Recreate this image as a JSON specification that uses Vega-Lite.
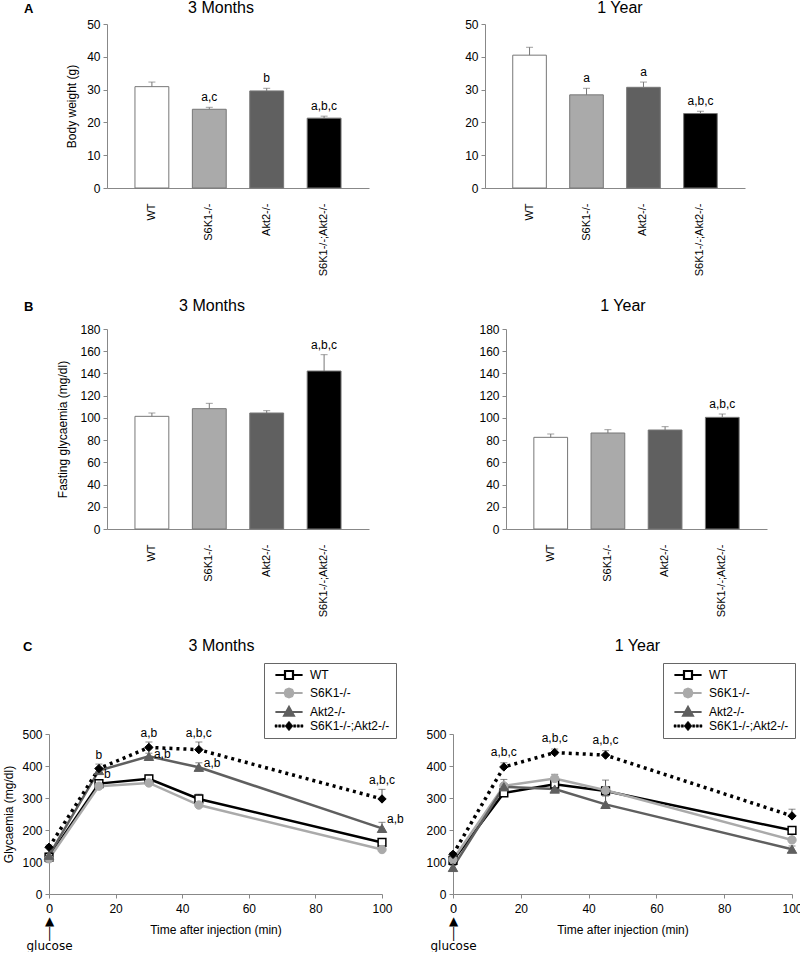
{
  "$schema": "https://vega.github.io/schema/vega-lite/v6.json",
  "padding": {"left": 2, "top": 0, "right": 0, "bottom": 0},
  "autosize": {"type": "pad"},
  "config": {
    "font": "Liberation Sans",
    "view": {"stroke": null},
    "axis": {"domainColor": "#888888", "tickColor": "#888888", "tickSize": 4, "labelFontSize": 12, "labelColor": "#000000", "titleFontSize": 12, "titleFontWeight": "normal", "titleColor": "#000000", "grid": false, "labelPadding": 3, "labelFlush": false, "labelOverlap": false},
    "title": {"fontSize": 16, "fontWeight": "normal", "color": "#000000"},
    "text": {"fontSize": 12, "color": "#000000"}
  },
  "resolve": {"scale": {"color": "independent", "fill": "independent"}, "legend": {"color": "independent"}},
  "datasets": {
    "bw3": [
      {"genotype": "WT", "mean": 30.9, "hi": 32.3, "sig": ""},
      {"genotype": "S6K1-/-", "mean": 24.0, "hi": 24.6, "sig": "a,c"},
      {"genotype": "Akt2-/-", "mean": 29.6, "hi": 30.4, "sig": "b"},
      {"genotype": "S6K1-/-;Akt2-/-", "mean": 21.3, "hi": 21.9, "sig": "a,b,c"}
    ],
    "bw1": [
      {"genotype": "WT", "mean": 40.5, "hi": 42.9, "sig": ""},
      {"genotype": "S6K1-/-", "mean": 28.4, "hi": 30.4, "sig": "a"},
      {"genotype": "Akt2-/-", "mean": 30.7, "hi": 32.3, "sig": "a"},
      {"genotype": "S6K1-/-;Akt2-/-", "mean": 22.7, "hi": 23.4, "sig": "a,b,c"}
    ],
    "fg3": [
      {"genotype": "WT", "mean": 101.4, "hi": 104.4, "sig": ""},
      {"genotype": "S6K1-/-", "mean": 108.3, "hi": 113.1, "sig": ""},
      {"genotype": "Akt2-/-", "mean": 104.4, "hi": 106.5, "sig": ""},
      {"genotype": "S6K1-/-;Akt2-/-", "mean": 142.2, "hi": 156.9, "sig": "a,b,c"}
    ],
    "fg1": [
      {"genotype": "WT", "mean": 82.5, "hi": 85.5, "sig": ""},
      {"genotype": "S6K1-/-", "mean": 86.4, "hi": 89.4, "sig": ""},
      {"genotype": "Akt2-/-", "mean": 89.1, "hi": 92.1, "sig": ""},
      {"genotype": "S6K1-/-;Akt2-/-", "mean": 100.5, "hi": 103.5, "sig": "a,b,c"}
    ],
    "ip3": [
      {"genotype": "WT", "t": 0, "g": 115, "hi": 122},
      {"genotype": "WT", "t": 15, "g": 345, "hi": 352},
      {"genotype": "WT", "t": 30, "g": 360, "hi": 372},
      {"genotype": "WT", "t": 45, "g": 297, "hi": 312},
      {"genotype": "WT", "t": 100, "g": 161, "hi": 172},
      {"genotype": "S6K1-/-", "t": 0, "g": 110, "hi": 115},
      {"genotype": "S6K1-/-", "t": 15, "g": 337, "hi": 344},
      {"genotype": "S6K1-/-", "t": 30, "g": 347, "hi": 352},
      {"genotype": "S6K1-/-", "t": 45, "g": 278, "hi": 284},
      {"genotype": "S6K1-/-", "t": 100, "g": 139, "hi": 145},
      {"genotype": "Akt2-/-", "t": 0, "g": 121, "hi": 128},
      {"genotype": "Akt2-/-", "t": 15, "g": 386, "hi": 395},
      {"genotype": "Akt2-/-", "t": 30, "g": 430, "hi": 440},
      {"genotype": "Akt2-/-", "t": 45, "g": 396, "hi": 410},
      {"genotype": "Akt2-/-", "t": 100, "g": 205, "hi": 224},
      {"genotype": "S6K1-/-;Akt2-/-", "t": 0, "g": 146, "hi": 153},
      {"genotype": "S6K1-/-;Akt2-/-", "t": 15, "g": 392, "hi": 406},
      {"genotype": "S6K1-/-;Akt2-/-", "t": 30, "g": 458, "hi": 475},
      {"genotype": "S6K1-/-;Akt2-/-", "t": 45, "g": 451, "hi": 475},
      {"genotype": "S6K1-/-;Akt2-/-", "t": 100, "g": 297, "hi": 327}
    ],
    "ip1": [
      {"genotype": "WT", "t": 0, "g": 105, "hi": 112},
      {"genotype": "WT", "t": 15, "g": 316, "hi": 324},
      {"genotype": "WT", "t": 30, "g": 343, "hi": 351},
      {"genotype": "WT", "t": 45, "g": 322, "hi": 330},
      {"genotype": "WT", "t": 100, "g": 199, "hi": 210},
      {"genotype": "S6K1-/-", "t": 0, "g": 108, "hi": 115},
      {"genotype": "S6K1-/-", "t": 15, "g": 338, "hi": 358},
      {"genotype": "S6K1-/-", "t": 30, "g": 361, "hi": 374},
      {"genotype": "S6K1-/-", "t": 45, "g": 324, "hi": 356},
      {"genotype": "S6K1-/-", "t": 100, "g": 169, "hi": 195},
      {"genotype": "Akt2-/-", "t": 0, "g": 83, "hi": 89},
      {"genotype": "Akt2-/-", "t": 15, "g": 335, "hi": 345},
      {"genotype": "Akt2-/-", "t": 30, "g": 328, "hi": 334},
      {"genotype": "Akt2-/-", "t": 45, "g": 280, "hi": 306},
      {"genotype": "Akt2-/-", "t": 100, "g": 140, "hi": 150},
      {"genotype": "S6K1-/-;Akt2-/-", "t": 0, "g": 124, "hi": 130},
      {"genotype": "S6K1-/-;Akt2-/-", "t": 15, "g": 397, "hi": 410},
      {"genotype": "S6K1-/-;Akt2-/-", "t": 30, "g": 442, "hi": 453},
      {"genotype": "S6K1-/-;Akt2-/-", "t": 45, "g": 434, "hi": 448},
      {"genotype": "S6K1-/-;Akt2-/-", "t": 100, "g": 244, "hi": 265}
    ],
    "ip3above": [
      {"t": 15, "y": 406, "sig": "b"},
      {"t": 30, "y": 475, "sig": "a,b"},
      {"t": 45, "y": 475, "sig": "a,b,c"},
      {"t": 100, "y": 327, "sig": "a,b,c"}
    ],
    "ip3right": [
      {"t": 15, "y": 375, "sig": "b"},
      {"t": 30, "y": 437, "sig": "a,b"},
      {"t": 45, "y": 410, "sig": "a,b"},
      {"t": 100, "y": 234, "sig": "a,b"}
    ],
    "ip1above": [
      {"t": 15, "y": 410, "sig": "a,b,c"},
      {"t": 30, "y": 453, "sig": "a,b,c"},
      {"t": 45, "y": 448, "sig": "a,b,c"}
    ],
    "blank": [{"d": 0}]
  },
  "vconcat": [
    {
      "spacing": 22,
      "resolve": {"scale": {"color": "independent", "fill": "independent"}, "legend": {"color": "independent"}},
      "vconcat": [
        {
          "title": {"text": "A", "anchor": "start", "frame": "bounds", "fontSize": 13, "fontWeight": "bold", "baseline": "top", "offset": -16, "dx": -25},
          "spacing": 15,
          "hconcat": [
            {"width": 1, "height": 1, "data": {"name": "blank"}, "mark": {"type": "text", "text": ""}, "encoding": {}},
            {
              "spacing": 95,
              "hconcat": [
                {
                  "width": 262, "height": 164,
                  "title": {"text": "3 Months", "frame": "group", "offset": 2, "dx": -17},
                  "data": {"name": "bw3"},
                  "encoding": {"x": {"field": "genotype", "type": "nominal", "scale": {"domain": ["WT", "S6K1-/-", "Akt2-/-", "S6K1-/-;Akt2-/-"], "paddingInner": 0.41, "paddingOuter": 0.487}, "axis": {"title": null, "labelAngle": -90, "ticks": false, "labelPadding": 15, "labelFontSize": 11}}},
                  "layer": [
                    {"mark": {"type": "bar", "stroke": "#777777", "strokeWidth": 1}, "encoding": {"y": {"field": "mean", "type": "quantitative", "title": "Body weight (g)", "scale": {"domain": [0, 50]}, "axis": {"values": [0, 10, 20, 30, 40, 50], "titlePadding": 8}}, "fill": {"field": "genotype", "type": "nominal", "scale": {"domain": ["WT", "S6K1-/-", "Akt2-/-", "S6K1-/-;Akt2-/-"], "range": ["#ffffff", "#aaaaaa", "#606060", "#000000"]}, "legend": null}}},
                    {"mark": {"type": "rule", "color": "#777777"}, "encoding": {"y": {"field": "mean", "type": "quantitative", "title": "Body weight (g)", "axis": {"values": [0, 10, 20, 30, 40, 50], "titlePadding": 8}}, "y2": {"field": "hi"}}},
                    {"mark": {"type": "tick", "color": "#777777", "size": 7, "thickness": 1}, "encoding": {"y": {"field": "hi", "type": "quantitative", "title": "Body weight (g)", "axis": {"values": [0, 10, 20, 30, 40, 50], "titlePadding": 8}}}},
                    {"mark": {"type": "text", "baseline": "alphabetic", "dy": -6}, "encoding": {"y": {"field": "hi", "type": "quantitative", "title": "Body weight (g)", "axis": {"values": [0, 10, 20, 30, 40, 50], "titlePadding": 8}}, "text": {"field": "sig"}}}
                  ]
                },
                {
                  "width": 260, "height": 164,
                  "title": {"text": "1 Year", "frame": "group", "offset": 2, "dx": 5},
                  "data": {"name": "bw1"},
                  "encoding": {"x": {"field": "genotype", "type": "nominal", "scale": {"domain": ["WT", "S6K1-/-", "Akt2-/-", "S6K1-/-;Akt2-/-"], "paddingInner": 0.41, "paddingOuter": 0.487}, "axis": {"title": null, "labelAngle": -90, "ticks": false, "labelPadding": 15, "labelFontSize": 11}}},
                  "layer": [
                    {"mark": {"type": "bar", "stroke": "#777777", "strokeWidth": 1}, "encoding": {"y": {"field": "mean", "type": "quantitative", "title": null, "scale": {"domain": [0, 50]}, "axis": {"values": [0, 10, 20, 30, 40, 50]}}, "fill": {"field": "genotype", "type": "nominal", "scale": {"domain": ["WT", "S6K1-/-", "Akt2-/-", "S6K1-/-;Akt2-/-"], "range": ["#ffffff", "#aaaaaa", "#606060", "#000000"]}, "legend": null}}},
                    {"mark": {"type": "rule", "color": "#777777"}, "encoding": {"y": {"field": "mean", "type": "quantitative", "title": null, "axis": {"values": [0, 10, 20, 30, 40, 50]}}, "y2": {"field": "hi"}}},
                    {"mark": {"type": "tick", "color": "#777777", "size": 7, "thickness": 1}, "encoding": {"y": {"field": "hi", "type": "quantitative", "title": null, "axis": {"values": [0, 10, 20, 30, 40, 50]}}}},
                    {"mark": {"type": "text", "baseline": "alphabetic", "dy": -6}, "encoding": {"y": {"field": "hi", "type": "quantitative", "title": null, "axis": {"values": [0, 10, 20, 30, 40, 50]}}, "text": {"field": "sig"}}}
                  ]
                }
              ]
            }
          ]
        },
        {
          "title": {"text": "B", "anchor": "start", "frame": "bounds", "fontSize": 13, "fontWeight": "bold", "baseline": "top", "offset": -16, "dx": -25},
          "spacing": 6,
          "hconcat": [
            {"width": 1, "height": 1, "data": {"name": "blank"}, "mark": {"type": "text", "text": ""}, "encoding": {}},
            {
              "spacing": 109,
              "hconcat": [
                {
                  "width": 262, "height": 200,
                  "title": {"text": "3 Months", "frame": "group", "offset": 9, "dx": -26},
                  "data": {"name": "fg3"},
                  "encoding": {"x": {"field": "genotype", "type": "nominal", "scale": {"domain": ["WT", "S6K1-/-", "Akt2-/-", "S6K1-/-;Akt2-/-"], "paddingInner": 0.41, "paddingOuter": 0.487}, "axis": {"title": null, "labelAngle": -90, "ticks": false, "labelPadding": 15, "labelFontSize": 11}}},
                  "layer": [
                    {"mark": {"type": "bar", "stroke": "#777777", "strokeWidth": 1}, "encoding": {"y": {"field": "mean", "type": "quantitative", "title": "Fasting glycaemia (mg/dl)", "scale": {"domain": [0, 180]}, "axis": {"values": [0, 20, 40, 60, 80, 100, 120, 140, 160, 180], "titlePadding": 10}}, "fill": {"field": "genotype", "type": "nominal", "scale": {"domain": ["WT", "S6K1-/-", "Akt2-/-", "S6K1-/-;Akt2-/-"], "range": ["#ffffff", "#aaaaaa", "#606060", "#000000"]}, "legend": null}}},
                    {"mark": {"type": "rule", "color": "#777777"}, "encoding": {"y": {"field": "mean", "type": "quantitative", "title": "Fasting glycaemia (mg/dl)", "axis": {"values": [0, 20, 40, 60, 80, 100, 120, 140, 160, 180], "titlePadding": 10}}, "y2": {"field": "hi"}}},
                    {"mark": {"type": "tick", "color": "#777777", "size": 7, "thickness": 1}, "encoding": {"y": {"field": "hi", "type": "quantitative", "title": "Fasting glycaemia (mg/dl)", "axis": {"values": [0, 20, 40, 60, 80, 100, 120, 140, 160, 180], "titlePadding": 10}}}},
                    {"mark": {"type": "text", "baseline": "alphabetic", "dy": -6}, "encoding": {"y": {"field": "hi", "type": "quantitative", "title": "Fasting glycaemia (mg/dl)", "axis": {"values": [0, 20, 40, 60, 80, 100, 120, 140, 160, 180], "titlePadding": 10}}, "text": {"field": "sig"}}}
                  ]
                },
                {
                  "width": 261, "height": 200,
                  "title": {"text": "1 Year", "frame": "bounds", "offset": 9},
                  "data": {"name": "fg1"},
                  "encoding": {"x": {"field": "genotype", "type": "nominal", "scale": {"domain": ["WT", "S6K1-/-", "Akt2-/-", "S6K1-/-;Akt2-/-"], "paddingInner": 0.41, "paddingOuter": 0.487}, "axis": {"title": null, "labelAngle": -90, "ticks": false, "labelPadding": 15, "labelFontSize": 11}}},
                  "layer": [
                    {"mark": {"type": "bar", "stroke": "#777777", "strokeWidth": 1}, "encoding": {"y": {"field": "mean", "type": "quantitative", "title": null, "scale": {"domain": [0, 180]}, "axis": {"values": [0, 20, 40, 60, 80, 100, 120, 140, 160, 180]}}, "fill": {"field": "genotype", "type": "nominal", "scale": {"domain": ["WT", "S6K1-/-", "Akt2-/-", "S6K1-/-;Akt2-/-"], "range": ["#ffffff", "#aaaaaa", "#606060", "#000000"]}, "legend": null}}},
                    {"mark": {"type": "rule", "color": "#777777"}, "encoding": {"y": {"field": "mean", "type": "quantitative", "title": null, "axis": {"values": [0, 20, 40, 60, 80, 100, 120, 140, 160, 180]}}, "y2": {"field": "hi"}}},
                    {"mark": {"type": "tick", "color": "#777777", "size": 7, "thickness": 1}, "encoding": {"y": {"field": "hi", "type": "quantitative", "title": null, "axis": {"values": [0, 20, 40, 60, 80, 100, 120, 140, 160, 180]}}}},
                    {"mark": {"type": "text", "baseline": "alphabetic", "dy": -6}, "encoding": {"y": {"field": "hi", "type": "quantitative", "title": null, "axis": {"values": [0, 20, 40, 60, 80, 100, 120, 140, 160, 180]}}, "text": {"field": "sig"}}}
                  ]
                }
              ]
            }
          ]
        }
      ]
    },
    {
      "title": {"text": "C", "anchor": "start", "frame": "bounds", "fontSize": 13, "fontWeight": "bold", "baseline": "top", "offset": -16, "dx": 20},
      "spacing": 21,
      "resolve": {"scale": {"color": "independent"}, "legend": {"color": "independent"}},
      "hconcat": [
        {
          "width": 333, "height": 160,
          "title": {"text": "3 Months", "frame": "group", "offset": 9, "dx": 6},
          "encoding": {
            "x": {"field": "t", "type": "quantitative", "title": "Time after injection (min)", "scale": {"domain": [0, 100]}, "axis": {"values": [0, 20, 40, 60, 80, 100], "labelPadding": 5, "labelLineHeight": 12.5, "labelFont": {"condition": {"test": "datum.value === 0", "value": "DejaVu Sans"}, "value": "Liberation Sans"}, "labelExpr": "datum.value === 0 ? ['0', '▲', '│', 'glucose'] : datum.label", "minExtent": 22, "maxExtent": 22, "titlePadding": 8}},
            "y": {"field": "g", "type": "quantitative", "title": "Glycaemia (mg/dl)", "scale": {"domain": [0, 500]}, "axis": {"values": [0, 100, 200, 300, 400, 500], "titlePadding": 6}}
          },
          "layer": [
            {"data": {"name": "ip3"}, "transform": [{"filter": "datum.genotype !== 'S6K1-/-;Akt2-/-'"}], "mark": {"type": "line", "strokeWidth": 2.5},
             "encoding": {"color": {"field": "genotype", "type": "nominal", "scale": {"domain": ["WT", "S6K1-/-", "Akt2-/-", "S6K1-/-;Akt2-/-"], "range": ["#000000", "#aaaaaa", "#5f5f5f", "#000000"]},
               "legend": {"orient": "none", "legendX": 215, "legendY": -71, "title": null, "strokeColor": "#666666", "fillColor": "#ffffff", "padding": 6, "labelFontSize": 12, "symbolSize": 64, "symbolOffset": 13, "labelOffset": 15, "rowPadding": 0,
                 "encode": {"symbols": {"update": {
                   "shape": {"signal": "datum.value === 'WT' ? 'M-3.4,0H-1M1,0H3.4M-1,-1H1V1H-1Z' : datum.value === 'S6K1-/-' ? 'M-3.4,0H3.4M1.1,0L0.78,0.78L0,1.1L-0.78,0.78L-1.1,0L-0.78,-0.78L0,-1.1L0.78,-0.78Z' : datum.value === 'Akt2-/-' ? 'M-3.4,0H3.4M0,-1.25L1.2,0.9H-1.2Z' : 'M0,-1.2L1,0L0,1.2L-1,0ZM-3.5,-0.3h0.55v0.6h-0.55ZM-2.6,-0.3h0.55v0.6h-0.55ZM-1.7,-0.3h0.55v0.6h-0.55ZM1.15,-0.3h0.55v0.6h-0.55ZM2.05,-0.3h0.55v0.6h-0.55ZM2.95,-0.3h0.55v0.6h-0.55Z'"},
                   "fill": {"signal": "datum.value === 'WT' ? '#ffffff' : datum.value === 'S6K1-/-' ? '#aaaaaa' : datum.value === 'Akt2-/-' ? '#5f5f5f' : '#000000'"},
                   "stroke": {"signal": "datum.value === 'WT' ? '#000000' : datum.value === 'S6K1-/-' ? '#aaaaaa' : datum.value === 'Akt2-/-' ? '#5f5f5f' : '#000000'"},
                   "strokeWidth": {"signal": "datum.value === 'S6K1-/-;Akt2-/-' ? 0.5 : 2.2"},
                   "opacity": {"value": 1}, "fillOpacity": {"value": 1}, "strokeOpacity": {"value": 1}
                 }}}}}}},
            {"data": {"name": "ip3"}, "transform": [{"filter": "datum.genotype === 'S6K1-/-;Akt2-/-'"}], "mark": {"type": "line", "strokeWidth": 3.5, "strokeDash": [3, 4]},
             "encoding": {"color": {"field": "genotype", "type": "nominal"}}},
            {"data": {"name": "ip3"}, "mark": {"type": "rule", "color": "#555555", "strokeWidth": 1}, "encoding": {"y2": {"field": "hi"}}},
            {"data": {"name": "ip3"}, "mark": {"type": "tick", "orient": "horizontal", "color": "#555555", "size": 7, "thickness": 1}, "encoding": {"y": {"field": "hi", "type": "quantitative"}}},
            {"data": {"name": "ip3"}, "transform": [{"filter": "datum.genotype === 'WT'"}], "mark": {"type": "point", "shape": "square", "filled": true, "fill": "#ffffff", "stroke": "#000000", "strokeWidth": 1.5, "opacity": 1, "size": 60}},
            {"data": {"name": "ip3"}, "transform": [{"filter": "datum.genotype === 'S6K1-/-'"}], "mark": {"type": "point", "shape": "circle", "filled": true, "fill": "#aaaaaa", "stroke": "#aaaaaa", "strokeWidth": 1, "opacity": 1, "size": 70}},
            {"data": {"name": "ip3"}, "transform": [{"filter": "datum.genotype === 'Akt2-/-'"}], "mark": {"type": "point", "shape": "triangle-up", "filled": true, "fill": "#5f5f5f", "stroke": "#5f5f5f", "strokeWidth": 1, "opacity": 1, "size": 90}},
            {"data": {"name": "ip3"}, "transform": [{"filter": "datum.genotype === 'S6K1-/-;Akt2-/-'"}], "mark": {"type": "point", "shape": "diamond", "filled": true, "fill": "#000000", "stroke": "#000000", "strokeWidth": 1, "opacity": 1, "size": 70}},
            {"data": {"name": "ip3above"}, "mark": {"type": "text", "baseline": "alphabetic", "dy": -5}, "encoding": {"y": {"field": "y", "type": "quantitative"}, "text": {"field": "sig"}}},
            {"data": {"name": "ip3right"}, "mark": {"type": "text", "align": "left", "baseline": "middle", "dx": 5}, "encoding": {"y": {"field": "y", "type": "quantitative"}, "text": {"field": "sig"}}}
          ]
        },
        {
          "width": 339, "height": 160,
          "title": {"text": "1 Year", "frame": "group", "offset": 9, "dx": 15},
          "encoding": {
            "x": {"field": "t", "type": "quantitative", "title": "Time after injection (min)", "scale": {"domain": [0, 100]}, "axis": {"values": [0, 20, 40, 60, 80, 100], "labelPadding": 5, "labelLineHeight": 12.5, "labelFont": {"condition": {"test": "datum.value === 0", "value": "DejaVu Sans"}, "value": "Liberation Sans"}, "labelExpr": "datum.value === 0 ? ['0', '▲', '│', 'glucose'] : datum.label", "minExtent": 22, "maxExtent": 22, "titlePadding": 8}},
            "y": {"field": "g", "type": "quantitative", "title": null, "scale": {"domain": [0, 500]}, "axis": {"values": [0, 100, 200, 300, 400, 500]}}
          },
          "layer": [
            {"data": {"name": "ip1"}, "transform": [{"filter": "datum.genotype !== 'S6K1-/-;Akt2-/-'"}], "mark": {"type": "line", "strokeWidth": 2.5},
             "encoding": {"color": {"field": "genotype", "type": "nominal", "scale": {"domain": ["WT", "S6K1-/-", "Akt2-/-", "S6K1-/-;Akt2-/-"], "range": ["#000000", "#aaaaaa", "#5f5f5f", "#000000"]},
               "legend": {"orient": "none", "legendX": 210, "legendY": -71, "title": null, "strokeColor": "#666666", "fillColor": "#ffffff", "padding": 6, "labelFontSize": 12, "symbolSize": 64, "symbolOffset": 13, "labelOffset": 15, "rowPadding": 0,
                 "encode": {"symbols": {"update": {
                   "shape": {"signal": "datum.value === 'WT' ? 'M-3.4,0H-1M1,0H3.4M-1,-1H1V1H-1Z' : datum.value === 'S6K1-/-' ? 'M-3.4,0H3.4M1.1,0L0.78,0.78L0,1.1L-0.78,0.78L-1.1,0L-0.78,-0.78L0,-1.1L0.78,-0.78Z' : datum.value === 'Akt2-/-' ? 'M-3.4,0H3.4M0,-1.25L1.2,0.9H-1.2Z' : 'M0,-1.2L1,0L0,1.2L-1,0ZM-3.5,-0.3h0.55v0.6h-0.55ZM-2.6,-0.3h0.55v0.6h-0.55ZM-1.7,-0.3h0.55v0.6h-0.55ZM1.15,-0.3h0.55v0.6h-0.55ZM2.05,-0.3h0.55v0.6h-0.55ZM2.95,-0.3h0.55v0.6h-0.55Z'"},
                   "fill": {"signal": "datum.value === 'WT' ? '#ffffff' : datum.value === 'S6K1-/-' ? '#aaaaaa' : datum.value === 'Akt2-/-' ? '#5f5f5f' : '#000000'"},
                   "stroke": {"signal": "datum.value === 'WT' ? '#000000' : datum.value === 'S6K1-/-' ? '#aaaaaa' : datum.value === 'Akt2-/-' ? '#5f5f5f' : '#000000'"},
                   "strokeWidth": {"signal": "datum.value === 'S6K1-/-;Akt2-/-' ? 0.5 : 2.2"},
                   "opacity": {"value": 1}, "fillOpacity": {"value": 1}, "strokeOpacity": {"value": 1}
                 }}}}}}},
            {"data": {"name": "ip1"}, "transform": [{"filter": "datum.genotype === 'S6K1-/-;Akt2-/-'"}], "mark": {"type": "line", "strokeWidth": 3.5, "strokeDash": [3, 4]},
             "encoding": {"color": {"field": "genotype", "type": "nominal"}}},
            {"data": {"name": "ip1"}, "mark": {"type": "rule", "color": "#555555", "strokeWidth": 1}, "encoding": {"y2": {"field": "hi"}}},
            {"data": {"name": "ip1"}, "mark": {"type": "tick", "orient": "horizontal", "color": "#555555", "size": 7, "thickness": 1}, "encoding": {"y": {"field": "hi", "type": "quantitative"}}},
            {"data": {"name": "ip1"}, "transform": [{"filter": "datum.genotype === 'WT'"}], "mark": {"type": "point", "shape": "square", "filled": true, "fill": "#ffffff", "stroke": "#000000", "strokeWidth": 1.5, "opacity": 1, "size": 60}},
            {"data": {"name": "ip1"}, "transform": [{"filter": "datum.genotype === 'S6K1-/-'"}], "mark": {"type": "point", "shape": "circle", "filled": true, "fill": "#aaaaaa", "stroke": "#aaaaaa", "strokeWidth": 1, "opacity": 1, "size": 70}},
            {"data": {"name": "ip1"}, "transform": [{"filter": "datum.genotype === 'Akt2-/-'"}], "mark": {"type": "point", "shape": "triangle-up", "filled": true, "fill": "#5f5f5f", "stroke": "#5f5f5f", "strokeWidth": 1, "opacity": 1, "size": 90}},
            {"data": {"name": "ip1"}, "transform": [{"filter": "datum.genotype === 'S6K1-/-;Akt2-/-'"}], "mark": {"type": "point", "shape": "diamond", "filled": true, "fill": "#000000", "stroke": "#000000", "strokeWidth": 1, "opacity": 1, "size": 70}},
            {"data": {"name": "ip1above"}, "mark": {"type": "text", "baseline": "alphabetic", "dy": -7}, "encoding": {"y": {"field": "y", "type": "quantitative"}, "text": {"field": "sig"}}}
          ]
        }
      ]
    }
  ],
  "spacing": 20
}
